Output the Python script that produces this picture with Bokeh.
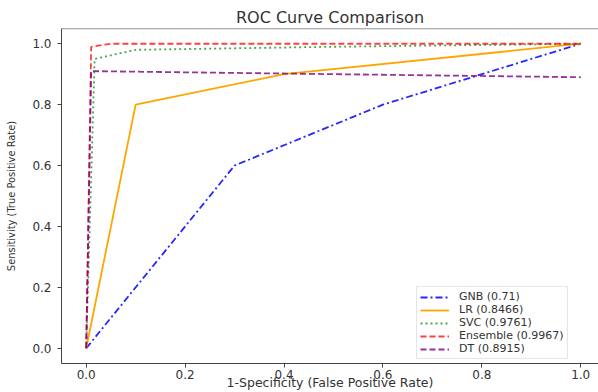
from bokeh.plotting import figure
from bokeh.models import Range1d, FixedTicker, PrintfTickFormatter, Span, Legend, LegendItem
from bokeh.embed import file_html
from bokeh.resources import INLINE

# ROC data
fpr_gnb = [0.0, 0.3, 0.6, 1.0]
tpr_gnb = [0.0, 0.6, 0.8, 1.0]
fpr_lr = [0.0, 0.1, 0.4, 1.0]
tpr_lr = [0.0, 0.8, 0.9, 1.0]
fpr_svc = [0.0, 0.017, 0.1, 0.5, 1.0]
tpr_svc = [0.0, 0.95, 0.98, 0.99, 1.0]
fpr_ens = [0.0, 0.01, 0.05, 1.0]
tpr_ens = [0.0, 0.99, 1.0, 1.0]
fpr_dt = [0.0, 0.01, 1.0]
tpr_dt = [0.0, 0.91, 0.89]

labels = ["GNB (0.71)", "LR (0.8466)", "SVC (0.9761)", "Ensemble (0.9967)", "DT (0.8915)"]
ticks = [0.0, 0.2, 0.4, 0.6, 0.8, 1.0]

FONT = "'DejaVu Sans'"
AXC = "#444444"
TXT = "#333333"

p = figure(width=598, height=392, output_backend="svg", toolbar_location=None,
           x_range=Range1d(-0.05, 1.036), y_range=Range1d(-0.05, 1.05),
           min_border_left=61, min_border_right=0, min_border_top=28, min_border_bottom=0,
           title="ROC Curve Comparison")
p.background_fill_color = "white"
p.border_fill_color = "white"
p.outline_line_color = None
p.xgrid.visible = False
p.ygrid.visible = False

p.title.align = "center"
p.title.text_font = FONT
p.title.text_font_size = "16px"
p.title.text_font_style = "normal"
p.title.text_color = TXT
p.title.standoff = 3

for ax in (p.xaxis[0], p.yaxis[0]):
    ax.ticker = FixedTicker(ticks=ticks)
    ax.formatter = PrintfTickFormatter(format="%.1f")
    ax.minor_tick_line_color = None
    ax.major_tick_in = 0
    ax.major_tick_out = 4
    ax.axis_line_color = AXC
    ax.major_tick_line_color = AXC
    ax.major_label_text_font = FONT
    ax.major_label_text_font_size = "12px"
    ax.major_label_text_color = TXT
    ax.axis_label_text_color = TXT
    ax.axis_label_text_font_style = "normal"

p.xaxis.axis_label = "1-Specificity (False Positive Rate)"
p.xaxis.axis_label_text_font = FONT
p.xaxis.axis_label_text_font_size = "12.5px"
p.xaxis.major_label_standoff = 2
p.xaxis.axis_label_standoff = -7

p.yaxis.axis_label = "Sensitivity (True Positive Rate)"
p.yaxis.axis_label_text_font = "'Liberation Sans Narrow', 'DejaVu Sans Condensed', sans-serif"
p.yaxis.axis_label_text_font_size = "11px"
p.yaxis.major_label_standoff = 6
p.yaxis.axis_label_standoff = 11

# top spine
p.add_layout(Span(location=1.0495, dimension="width", line_color=AXC, line_width=1))

r_gnb = p.line(fpr_gnb, tpr_gnb, line_color="blue", line_alpha=0.85, line_width=1.8, line_dash="7 3 2 3")
r_lr = p.line(fpr_lr, tpr_lr, line_color="orange", line_width=1.8)
r_svc = p.line(fpr_svc, tpr_svc, line_color="green", line_alpha=0.7, line_width=1.8, line_dash="2 3")
r_ens = p.line(fpr_ens, tpr_ens, line_color="red", line_alpha=0.75, line_width=1.8, line_dash="6 3")
r_dt = p.line(fpr_dt, tpr_dt, line_color="purple", line_alpha=0.8, line_width=1.8, line_dash="6 3")

legend = Legend(items=[LegendItem(label=l, renderers=[r]) for l, r in
                       zip(labels, [r_gnb, r_lr, r_svc, r_ens, r_dt])],
                location=(355, 4))
legend.label_text_font = FONT
legend.label_text_font_size = "11px"
legend.label_text_color = TXT
legend.glyph_width = 29
legend.glyph_height = 12
legend.label_height = 12
legend.label_standoff = 10
legend.spacing = 0
legend.padding = 3
legend.margin = 0
legend.border_line_color = "#cccccc"
legend.border_line_width = 1
legend.background_fill_alpha = 0.85
p.add_layout(legend, "center")

open("out.html", "w").write(file_html(p, INLINE))
